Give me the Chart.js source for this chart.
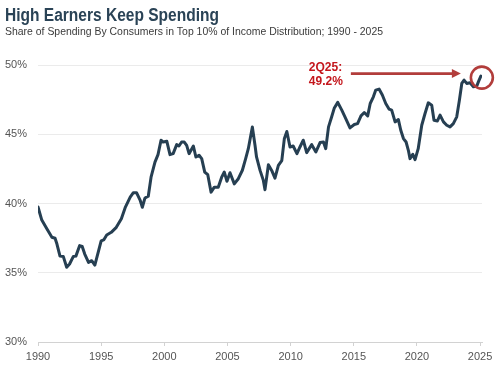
<!DOCTYPE html>
<html>
<head>
<meta charset="utf-8">
<title>High Earners Keep Spending</title>
<script src="https://cdn.jsdelivr.net/npm/chart.js@4/dist/chart.umd.min.js"></script>
<style>
  html, body { margin: 0; padding: 0; background: #ffffff; }
  canvas { display: block; }
</style>
</head>
<body>
<canvas id="grafico" width="501" height="369"></canvas>
<script>
/* =========================================================
   DATA
========================================================= */

const title = 'High Earners Keep Spending';
const subtitle = 'Share of Spending By Consumers in Top 10% of Income Distribution; 1990 - 2025';

const years = [
  1990.0, 1990.3, 1990.7, 1991.1, 1991.35, 1991.5, 1991.74, 1992.0, 1992.27, 1992.5,
  1992.8, 1993.0, 1993.3, 1993.5, 1993.7, 1994.0, 1994.25, 1994.5, 1994.8, 1995.0,
  1995.2, 1995.44, 1995.8, 1996.2, 1996.6, 1996.9, 1997.3, 1997.55, 1997.8, 1998.1,
  1998.26, 1998.47, 1998.73, 1998.95, 1999.26, 1999.5, 1999.74, 1999.9, 2000.2, 2000.45,
  2000.7, 2000.98, 2001.16, 2001.37, 2001.58, 2001.77, 2001.96, 2002.3, 2002.5, 2002.75,
  2002.96, 2003.2, 2003.44, 2003.7, 2003.96, 2004.27, 2004.54, 2004.75, 2004.96, 2005.2,
  2005.54, 2005.86, 2006.18, 2006.44, 2006.65, 2006.97, 2007.18, 2007.3, 2007.58, 2007.84,
  2007.97, 2008.24, 2008.5, 2008.76, 2009.03, 2009.3, 2009.5, 2009.7, 2009.95, 2010.2,
  2010.5, 2010.74, 2011.0, 2011.27, 2011.67, 2012.0, 2012.33, 2012.6, 2012.78, 2013.0,
  2013.25, 2013.46, 2013.73, 2014.05, 2014.3, 2014.7, 2015.04, 2015.3, 2015.57, 2015.83,
  2016.1, 2016.3, 2016.55, 2016.74, 2017.0, 2017.26, 2017.53, 2017.8, 2018.0, 2018.27,
  2018.53, 2018.72, 2018.93, 2019.14, 2019.32, 2019.45, 2019.67, 2019.85, 2020.1, 2020.38,
  2020.64, 2020.9, 2021.17, 2021.35, 2021.62, 2021.83, 2022.1, 2022.36, 2022.62, 2022.88,
  2023.15, 2023.36, 2023.55, 2023.73, 2023.94, 2024.2, 2024.47, 2024.74, 2024.87, 2025.06
];

const shares = [
  39.75, 38.8, 38.17, 37.56, 37.49, 37.07, 36.2, 36.18, 35.4, 35.63,
  36.18, 36.2, 36.96, 36.9, 36.35, 35.75, 35.87, 35.55, 36.6, 37.3,
  37.37, 37.73, 37.92, 38.28, 38.9, 39.7, 40.46, 40.78, 40.78, 40.2,
  39.73, 40.4, 40.53, 41.9, 42.99, 43.53, 44.57, 44.44, 44.49, 43.53,
  43.6, 44.25, 44.15, 44.44, 44.44, 44.2, 43.6, 44.15, 43.36, 43.48,
  43.24, 42.27, 42.08, 40.82, 41.18, 41.18, 41.9, 42.27, 41.6, 42.22,
  41.42, 41.79, 42.4, 43.24, 43.96, 45.53, 44.2, 43.36, 42.39, 41.67,
  41.0, 42.8, 42.39, 41.83, 42.75, 43.1, 44.67, 45.2, 44.08, 44.15,
  43.6, 44.08, 44.57, 43.67, 44.25, 43.72, 44.4, 44.44, 43.96, 45.53,
  46.26, 46.9, 47.3, 46.74, 46.26, 45.46, 45.7, 45.77, 46.33, 46.57,
  46.33, 47.22, 47.7, 48.19, 48.26, 47.83, 47.22, 46.81, 46.74, 45.89,
  46.06, 45.29, 44.69, 44.44, 43.84, 43.24, 43.55, 43.17, 43.96, 45.65,
  46.5, 47.27, 47.1, 46.01, 45.96, 46.38, 45.89, 45.65, 45.53, 45.77,
  46.26, 47.46, 48.67, 48.91, 48.67, 48.72, 48.43, 48.48, 48.8, 49.2
];

const xTicks = [1990, 1995, 2000, 2005, 2010, 2015, 2020, 2025];
const yTicks = [30, 35, 40, 45, 50];

const lastLabel = '2Q25:';


/* =========================================================
   CORES E FONTES
========================================================= */

const corLinha = '#263f52';
const corTitulo = '#2a4356';
const corAnotacao = '#b23d3b';
const corTextoAnotacao = '#c4161c';
const corGrade = '#ebebeb';
const corEixo = '#d2d2d2';
const corTicks = '#555555';


/* =========================================================
   PLUGIN: TÍTULOS
========================================================= */

const titulos = {
  id: 'titulos',
  beforeDraw(chart) {
    const ctx = chart.ctx;
    ctx.save();
    ctx.textAlign = 'left';
    ctx.textBaseline = 'alphabetic';

    ctx.fillStyle = corTitulo;
    ctx.font = 'bold 18px "Liberation Sans Narrow", "Liberation Sans", sans-serif';
    ctx.fillText(title, 5, 21, 214);

    ctx.fillStyle = '#3a3a3a';
    ctx.font = '11px "Liberation Sans", Arial, sans-serif';
    ctx.fillText(subtitle, 5, 35, 378);
    ctx.restore();
  }
};


/* =========================================================
   PLUGIN: ANOTAÇÃO DO ÚLTIMO PONTO
========================================================= */

const anotacao = {
  id: 'anotacao',
  afterDatasetsDraw(chart) {
    const ctx = chart.ctx;
    const pontos = chart.getDatasetMeta(0).data;
    const ultimo = pontos[pontos.length - 1];

    const cx = ultimo.x + 1;
    const cy = ultimo.y + 1.5;
    const raio = 11;

    ctx.save();

    // circulo
    ctx.strokeStyle = corAnotacao;
    ctx.lineWidth = 2.6;
    ctx.beginPath();
    ctx.arc(cx, cy, raio, 0, Math.PI * 2);
    ctx.stroke();

    // seta
    const yS = cy - 4;
    const xFim = cx - raio - 10;
    const xIni = xFim - 110;

    ctx.lineWidth = 2.7;
    ctx.beginPath();
    ctx.moveTo(xIni, yS);
    ctx.lineTo(xFim - 8, yS);
    ctx.stroke();

    ctx.fillStyle = corAnotacao;
    ctx.beginPath();
    ctx.moveTo(xFim, yS);
    ctx.lineTo(xFim - 9, yS - 4.5);
    ctx.lineTo(xFim - 9, yS + 4.5);
    ctx.closePath();
    ctx.fill();

    // texto
    ctx.fillStyle = corTextoAnotacao;
    ctx.font = 'bold 12px "Liberation Sans", Arial, sans-serif';
    ctx.textAlign = 'left';
    ctx.textBaseline = 'alphabetic';
    ctx.fillText(lastLabel, xIni - 42, yS - 2.7);
    ctx.fillText(shares[shares.length - 1].toFixed(1) + '%', xIni - 42, yS + 11.3);

    ctx.restore();
  }
};


/* =========================================================
   CRIA GRÁFICO
========================================================= */

const grafico = new Chart(document.getElementById('grafico'), {
  type: 'line',

  data: {
    datasets: [{
      label: 'Share of spending, top 10%',
      data: years.map((ano, i) => ({ x: ano, y: shares[i] })),
      borderColor: corLinha,
      borderWidth: 3,
      borderJoinStyle: 'round',
      borderCapStyle: 'round',
      pointRadius: 0,
      tension: 0,
      fill: false
    }]
  },

  options: {
    responsive: false,
    animation: false,

    layout: {
      padding: { top: 65, left: 4, right: 19, bottom: 0 }
    },

    plugins: {
      legend: { display: false },
      tooltip: { enabled: false }
    },

    scales: {
      x: {
        type: 'linear',
        min: 1990,
        max: 2025.15,
        afterBuildTicks: s => { s.ticks = xTicks.map(v => ({ value: v })); },
        afterFit: s => { s.height = 27; },
        ticks: {
          color: corTicks,
          padding: 4,
          maxRotation: 0,
          font: { family: '"Liberation Sans", Arial, sans-serif', size: 11 },
          callback: v => String(v)
        },
        grid: {
          drawOnChartArea: false,
          drawTicks: true,
          tickLength: 4,
          color: corEixo
        },
        border: { display: true, color: corEixo }
      },

      y: {
        min: 30,
        max: 50,
        afterBuildTicks: s => { s.ticks = yTicks.map(v => ({ value: v })); },
        afterFit: s => { s.width = 34; },
        ticks: {
          color: corTicks,
          padding: 11,
          font: { family: '"Liberation Sans", Arial, sans-serif', size: 11 },
          callback: v => v + '%'
        },
        grid: {
          color: corGrade,
          drawTicks: false
        },
        border: { display: false }
      }
    }
  },

  plugins: [titulos, anotacao]
});
</script>
</body>
</html>
